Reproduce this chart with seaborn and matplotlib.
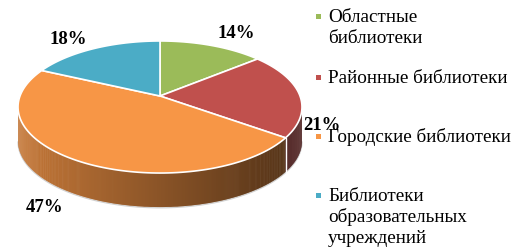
import numpy as np
import matplotlib
matplotlib.use("Agg")
import matplotlib.pyplot as plt
import matplotlib.transforms as mtransforms
from matplotlib.path import Path
from matplotlib.patches import Polygon, Rectangle
from matplotlib.colors import to_rgb
import seaborn as sns

categories = ["Областные\nбиблиотеки", "Районные библиотеки",
              "Городские библиотеки", "Библиотеки\nобразовательных\nучреждений"]
values = [14, 21, 47, 18]
pct_labels = ["14%", "21%", "47%", "18%"]
colors = ["#9bbb59", "#c0504d", "#f79646", "#4bacc6"]

sns.set_theme(style="white")
plt.rcParams["font.family"] = ["Liberation Serif", "DejaVu Serif"]

W, H = 521, 251
fig = plt.figure(figsize=(W / 100, H / 100), dpi=100)
ax = fig.add_axes([0, 0, 1, 1])

# perspective geometry (pixels)
CX, AY = 160.0, 97.0       # projected pie centre
C, K, E = 140.0, 64.2, 0.1667
DEPTH = 34.0               # side thickness in px


def project(x, y):
    d = 1 + E * y
    return CX + C * x / d, AY - K * y / d


class Persp(mtransforms.Transform):
    input_dims = 2
    output_dims = 2
    is_separable = False
    has_inverse = False

    def transform_non_affine(self, v):
        v = np.asarray(v, dtype=float)
        px, py = project(v[:, 0], v[:, 1])
        return np.column_stack([px, py])

    def transform_path_non_affine(self, path):
        pts = []
        for seg, code in path.iter_bezier():
            pts.append(seg(np.linspace(0, 1, 30)))
        verts = np.concatenate(pts)
        return Path(self.transform_non_affine(verts), closed=True)


persp = Persp() + ax.transData

# angular extent of wedges (clockwise from 12 o'clock)
total = sum(values)
bounds = []
a = 90.0
for v in values:
    b = a - v / total * 360
    bounds.append((a, b))
    a = b


def wedge_of(theta):
    for i, (s, e) in enumerate(bounds):
        if (s - theta) % 360 <= (s - e):
            return i
    return 0


# side wall (visible front part)
t0 = 180 + np.degrees(np.arcsin(E))
t1 = 360 - np.degrees(np.arcsin(E))
ts = np.linspace(t0, t1, 400)
for ta, tb in zip(ts[:-1], ts[1:]):
    tm = 0.5 * (ta + tb)
    i = wedge_of(tm)
    xa, ya = project(np.cos(np.radians(ta)), np.sin(np.radians(ta)))
    xb, yb = project(np.cos(np.radians(tb + 0.3)), np.sin(np.radians(tb + 0.3)))
    frac = (0.5 * (xa + xb) - 18) / 284
    fac = 0.80 - 0.48 * frac
    if i == 1:
        fac = 0.40
    c = np.clip(np.array(to_rgb(colors[i])) * fac, 0, 1)
    ax.add_patch(Polygon([(xa, ya), (xb, yb), (xb, yb + DEPTH), (xa, ya + DEPTH)],
                         closed=True, facecolor=c, edgecolor="none", zorder=1))

# faint outline at bottom of side
tt = np.radians(np.linspace(t0, t1, 200))
bx, by = project(np.cos(tt), np.sin(tt))
ax.plot(bx, by + DEPTH + 0.8, color="#d0d0d0", lw=0.9, zorder=0.5)

# divider on the side between red and orange
rb = np.radians(bounds[1][1])
dx, dy = project(np.cos(rb), np.sin(rb))
ax.plot([dx, dx], [dy, dy + DEPTH], color="white", lw=1, zorder=1.6)

wedges, _ = ax.pie(values, colors=colors, startangle=90, counterclock=False,
                   wedgeprops=dict(edgecolor="white", linewidth=1.2))
for w in wedges:
    w.set_transform(persp)
    w.set_zorder(2)

ax.set_aspect("auto")
ax.set_xlim(0, W)
ax.set_ylim(H, 0)
ax.axis("off")

label_px = [(236, 34), (322, 125), (45, 208), (68, 40)]
for (x, y), t in zip(label_px, pct_labels):
    ax.text(x, y, t, ha="center", va="center", fontsize=13.5, fontweight="bold",
            color="black", zorder=5)

# legend (manual)
line_rows = [[17, 38], [78], [137], [196, 217, 238]]
for cat, col, rows in zip(categories, colors, line_rows):
    fig.patches.append(Rectangle(((318 - 2.5) / W, 1 - (rows[0] + 2.5) / H), 5 / W, 5 / H,
                                 transform=fig.transFigure, facecolor=col,
                                 edgecolor="none", figure=fig))
    for ln, r in zip(cat.split("\n"), rows):
        fig.text(328 / W, 1 - (r + 5) / H, ln, ha="left", va="baseline",
                 fontsize=13.8, color="black")

fig.savefig("out.png", dpi=100)
